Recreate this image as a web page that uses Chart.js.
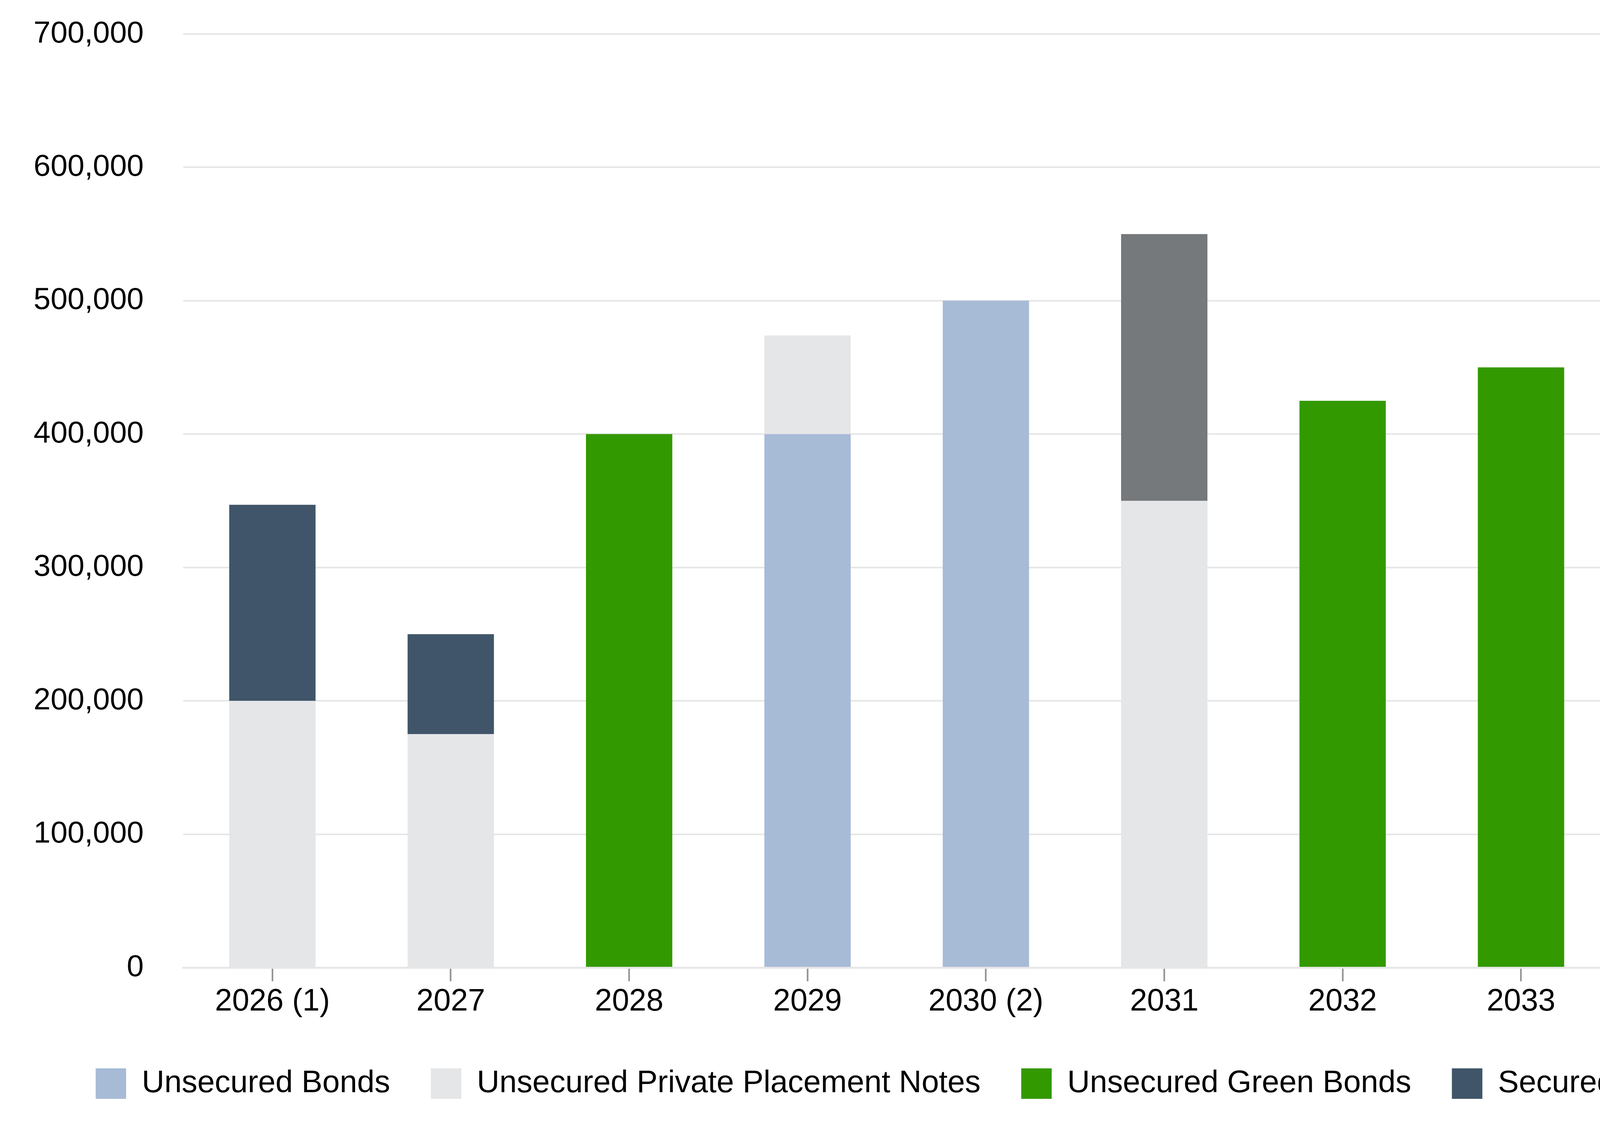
<!DOCTYPE html>
<html>
<head>
<meta charset="utf-8">
<script src="https://cdn.jsdelivr.net/npm/chart.js@4.4.1/dist/chart.umd.min.js"></script>
<style>
html,body{margin:0;padding:0;background:#fff}
canvas{display:block}
</style>
</head>
<body>
<canvas id="debtChart" width="5586" height="2880" style="width:5586px;height:2880px"></canvas>
<script>

// chart data

const categories = ['2026 (1)','2027','2028','2029','2030 (2)','2031','2032','2033','2034','2035','2036']

const unsecuredBonds   = [null,null,null,400000,500000,null,null,null,null,400000,400000]
const privatePlacement = [200000,175000,null,74000,null,350000,null,null,null,null,null]
const greenBonds       = [null,null,400000,null,null,null,425000,450000,null,null,null]
const securedDebt      = [147000,75000,null,null,null,null,null,null,375000,null,null]
const termLoan         = [null,null,null,null,null,200000,null,null,null,null,null]

const yTicks = [0,100000,200000,300000,400000,500000,600000,700000]

const seriesNames = ['Unsecured Bonds','Unsecured Private Placement Notes','Unsecured Green Bonds','Secured Debt','Unsecured Term Loan']
const seriesColors = ['#a7bbd6','#e5e6e8','#339900','#405569','#75797c']
const seriesData = [unsecuredBonds,privatePlacement,greenBonds,securedDebt,termLoan]


// build datasets

const datasets = seriesData.map((values,i)=>({
label:seriesNames[i],
data:values,
backgroundColor:seriesColors[i],
borderWidth:0,
categoryPercentage:1,
barPercentage:0.484
}))

const fontFamily = "'Liberation Sans', Arial, sans-serif"


// MATURITY CHART

const debtChart = new Chart(

document.getElementById('debtChart'),

{
type:'bar',

data:{
labels:categories,
datasets:datasets
},

options:{
responsive:false,
devicePixelRatio:1,
animation:false,
layout:{padding:{left:86,right:94,top:87,bottom:56}},
plugins:{
tooltip:{enabled:false},
legend:{
position:'bottom',
labels:{
font:{family:fontFamily,size:80},
color:'#000',
boxWidth:78,
boxHeight:78,
padding:104
}
}
},
scales:{
x:{
stacked:true,
grid:{
display:true,
offset:false,
drawOnChartArea:false,
drawTicks:true,
tickLength:35,
tickWidth:4,
tickColor:'#8f8f8f'
},
border:{display:true,color:'#e6e6e6',width:5},
ticks:{font:{family:fontFamily,size:79},color:'#000',padding:6,maxRotation:0,autoSkip:false},
afterFit:s=>{s.height=153}
},
y:{
stacked:true,
min:0,
max:700000,
afterBuildTicks:s=>{s.ticks=yTicks.map(v=>({value:v}))},
grid:{color:'#e6e6e6',lineWidth:4,drawTicks:true,tickLength:101,tickColor:'rgba(0,0,0,0)'},
border:{display:false},
ticks:{
font:{family:fontFamily,size:78},
color:'#000',
padding:0,
callback:v=>v.toLocaleString('en-US')
},
afterFit:s=>{s.width=383}
}
}
}

}
)

</script>
</body>
</html>
